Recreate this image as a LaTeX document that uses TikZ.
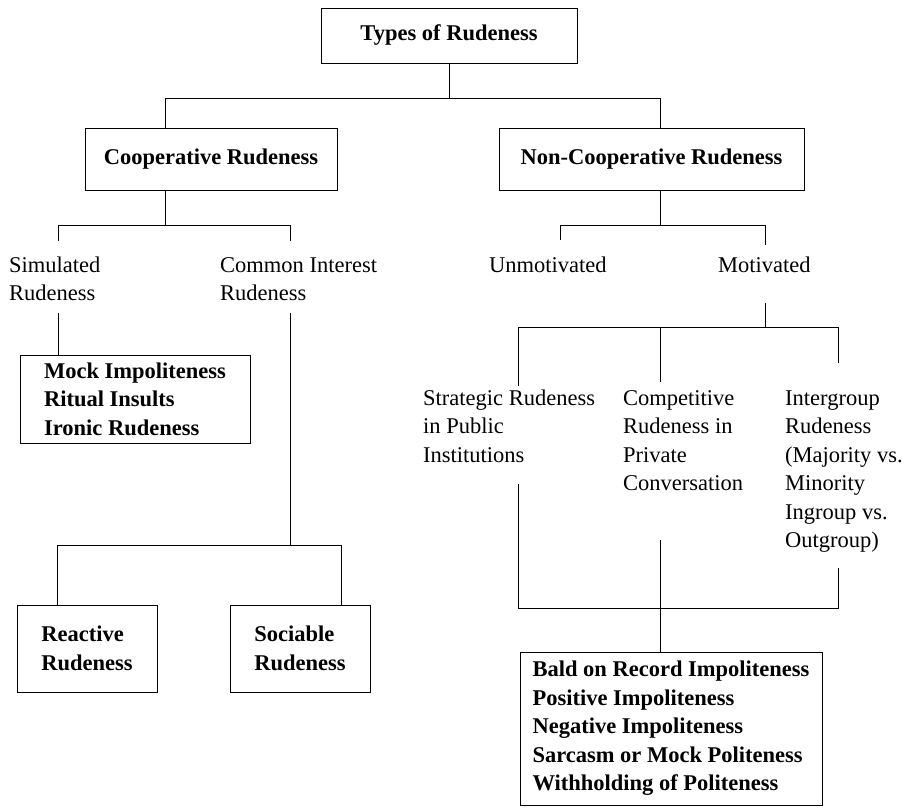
\documentclass[tikz,border=0pt]{standalone}
\usepackage{fontspec}
\setmainfont{Liberation Serif}
\begin{document}
\begin{tikzpicture}[x=1pt,y=-1pt,
  every node/.style={font=\fontsize{22.5}{28.5}\selectfont},
  box/.style={draw, line width=1pt, inner sep=0pt, align=left, font=\fontsize{22.5}{28.5}\selectfont\bfseries},
  lbl/.style={anchor=north west, inner sep=0pt, align=left},
  ln/.style={line width=0.9pt}]
\useasboundingbox (0,0) rectangle (909,807);

% boxes
\node[box, minimum width=256pt, minimum height=55pt] (top) at (449,35.5) {Types of Rudeness};
\node[box, minimum width=252pt, minimum height=62pt] (coop) at (211,159) {Cooperative Rudeness};
\node[box, minimum width=305pt, minimum height=62pt] (nonc) at (651.5,159) {Non-Cooperative Rudeness};
\node[box, minimum width=230pt, minimum height=88pt] (mock) at (135,399) {Mock Impoliteness\\Ritual Insults\\Ironic Rudeness};
\node[box, minimum width=140pt, minimum height=87pt] (react) at (87,648.5) {Reactive\\Rudeness};
\node[box, minimum width=140pt, minimum height=87pt] (soc) at (300,648.5) {Sociable\\Rudeness};
\node[box, minimum width=302pt, minimum height=153pt] (pol) at (671,728.5) {Bald on Record Impoliteness\\Positive Impoliteness\\Negative Impoliteness\\Sarcasm or Mock Politeness\\Withholding of Politeness};

% plain labels
\node[lbl] (sim) at (9,252) {\strut Simulated\\Rudeness};
\node[lbl] (com) at (220,252) {\strut Common Interest\\Rudeness};
\node[lbl] (unm) at (489,252) {\strut Unmotivated};
\node[lbl] (mot) at (718,252) {\strut Motivated};
\node[lbl] (str) at (423,385) {\strut Strategic Rudeness\\in Public\\Institutions};
\node[lbl] (cmp) at (623,385) {\strut Competitive\\Rudeness in\\Private\\Conversation};
\node[lbl] (int) at (785,385) {\strut Intergroup\\Rudeness\\(Majority vs.\\Minority\\Ingroup vs.\\Outgroup)};

% junction coordinates
\coordinate (h1l) at (165,98);
\coordinate (h1r) at (660,98);
\coordinate (h2m) at (165,225);
\coordinate (h2l) at (58,225);
\coordinate (h2r) at (290,225);
\coordinate (simE) at (58,241);
\coordinate (comE) at (290,241);
\coordinate (simS) at (58,313);
\coordinate (comS) at (290,313);
\coordinate (h3m) at (290,545);
\coordinate (h3l) at (57,545);
\coordinate (h3r) at (341,545);
\coordinate (h4m) at (660,225);
\coordinate (h4l) at (560,225);
\coordinate (h4r) at (765,225);
\coordinate (unmE) at (560,240);
\coordinate (motE) at (765,245);
\coordinate (motS) at (765,303);
\coordinate (h5m) at (765,327);
\coordinate (h5l) at (518,327);
\coordinate (h5c) at (660,327);
\coordinate (h5r) at (838,327);
\coordinate (strE) at (518,386);
\coordinate (cmpE) at (660,382);
\coordinate (intE) at (838,363);
\coordinate (strS) at (518,484);
\coordinate (cmpS) at (660,540);
\coordinate (intS) at (838,568);
\coordinate (h6l) at (518,608);
\coordinate (h6r) at (838,608);

% connectors
\draw[ln] (top.south) -- (top.south |- h1l);
\draw[ln] (h1l) -- (h1r);
\draw[ln] (h1l) -- (h1l |- coop.north);
\draw[ln] (h1r) -- (h1r |- nonc.north);

\draw[ln] (h2m |- coop.south) -- (h2m);
\draw[ln] (h2l) -- (h2r);
\draw[ln] (h2l) -- (simE);
\draw[ln] (h2r) -- (comE);
\draw[ln] (simS) -- (simS |- mock.north);
\draw[ln] (comS) -- (h3m);
\draw[ln] (h3l) -- (h3r);
\draw[ln] (h3l) -- (h3l |- react.north);
\draw[ln] (h3r) -- (h3r |- soc.north);

\draw[ln] (h4m |- nonc.south) -- (h4m);
\draw[ln] (h4l) -- (h4r);
\draw[ln] (h4l) -- (unmE);
\draw[ln] (h4r) -- (motE);
\draw[ln] (motS) -- (h5m);
\draw[ln] (h5l) -- (h5r);
\draw[ln] (h5l) -- (strE);
\draw[ln] (h5c) -- (cmpE);
\draw[ln] (h5r) -- (intE);
\draw[ln] (strS) -- (h6l) -- (h6r) -- (intS);
\draw[ln] (cmpS) -- (cmpS |- pol.north);
\end{tikzpicture}
\end{document}
